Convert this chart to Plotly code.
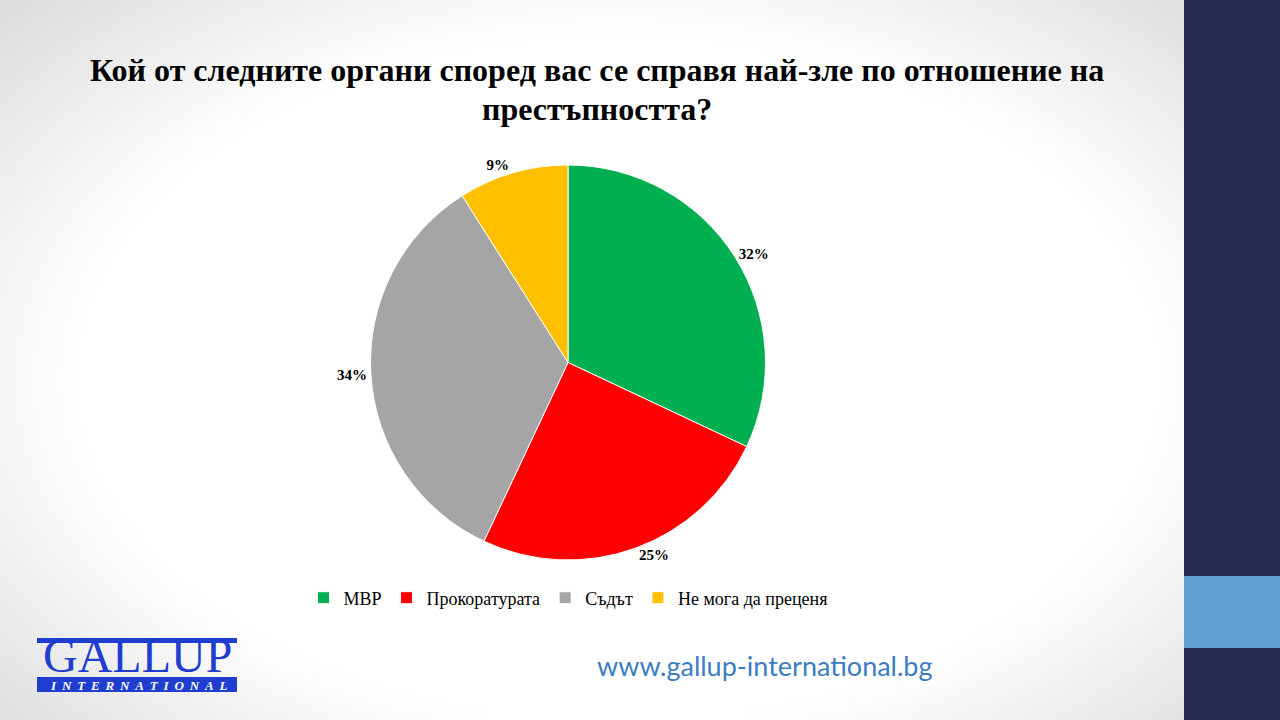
import base64
import struct
import zlib

import numpy as np
import plotly.graph_objects as go

labels = ["МВР", "Прокоратурата", "Съдът", "Не мога да преценя"]
values = [32, 25, 34, 9]
colors = ["#00b050", "#ff0000", "#a5a5a5", "#ffc000"]

title_line1 = "Кой от следните органи според вас се справя най-зле по отношение на"
title_line2 = "престъпността?"
site = "www.gallup-international.bg"
logo_top = "GALLUP"
logo_bottom = "INTERNATIONAL"

W, H = 1280, 720


def px(x):
    return x / W


def py(y):
    return 1 - y / H


# soft grey corners for the slide background, written as a tiny png
def vignette_png(w=160, h=90):
    yy, xx = np.mgrid[0:h, 0:w]
    dx = (xx / w - 0.48) / 0.55
    dy = (yy / h - 0.52) / 0.62
    d = np.sqrt(dx * dx + dy * dy)
    v = 255 - np.clip((d - 0.78) * 80, 0, 38)
    v = v.astype(np.uint8)
    raw = b"".join(b"\x00" + v[i].tobytes() for i in range(h))

    def chunk(tag, data):
        c = struct.pack(">I", len(data)) + tag + data
        return c + struct.pack(">I", zlib.crc32(tag + data) & 0xFFFFFFFF)

    png = b"\x89PNG\r\n\x1a\n"
    png += chunk(b"IHDR", struct.pack(">IIBBBBB", w, h, 8, 0, 0, 0, 0))
    png += chunk(b"IDAT", zlib.compress(raw, 9))
    png += chunk(b"IEND", b"")
    return "data:image/png;base64," + base64.b64encode(png).decode()


fig = go.Figure()
fig.add_trace(go.Pie(
    labels=labels,
    values=values,
    sort=False,
    direction="clockwise",
    rotation=0,
    marker=dict(colors=colors, line=dict(color="#ffffff", width=1)),
    texttemplate="<b>%{value}%</b>",
    textposition="outside",
    textfont=dict(family="Liberation Serif", size=15, color="#000000"),
    hoverinfo="label+value",
    domain=dict(x=[px(330), px(806)], y=[py(560), py(165)]),
))

# title
fig.add_annotation(x=px(597), y=py(70), xref="paper", yref="paper", text="<b>" + title_line1 + "</b>",
                   showarrow=False, xanchor="center", yanchor="middle",
                   font=dict(family="Liberation Serif", size=32, color="#000000"))
fig.add_annotation(x=px(597), y=py(109), xref="paper", yref="paper", text="<b>" + title_line2 + "</b>",
                   showarrow=False, xanchor="center", yanchor="middle",
                   font=dict(family="Liberation Serif", size=32, color="#000000"))

# right hand band
fig.add_shape(type="rect", xref="paper", yref="paper", x0=px(1184), x1=1, y0=0, y1=1,
              fillcolor="#262852", line_width=0, layer="below")
fig.add_shape(type="rect", xref="paper", yref="paper", x0=px(1184), x1=1, y0=py(648), y1=py(576),
              fillcolor="#639fd1", line_width=0, layer="below")

# gallup logo
fig.add_shape(type="rect", xref="paper", yref="paper", x0=px(37), x1=px(237), y0=py(643), y1=py(638),
              fillcolor="#1f3ed0", line_width=0)
fig.add_shape(type="rect", xref="paper", yref="paper", x0=px(37), x1=px(237), y0=py(692), y1=py(677),
              fillcolor="#1f3ed0", line_width=0)
fig.add_annotation(x=px(137), y=py(655), xref="paper", yref="paper", text=logo_top,
                   showarrow=False, xanchor="center", yanchor="middle", height=40, valign="middle",
                   font=dict(family="Liberation Serif", size=48, color="#1f3ed0"))
fig.add_annotation(x=px(138), y=py(684.5), xref="paper", yref="paper",
                   text="<b><i>" + "\u00a0\u2009".join(logo_bottom) + "</i></b>",
                   showarrow=False, xanchor="center", yanchor="middle", height=14,
                   font=dict(family="Liberation Serif", size=13, color="#ffffff"))

fig.add_annotation(x=px(765), y=py(665), xref="paper", yref="paper", text=site,
                   showarrow=False, xanchor="center", yanchor="middle",
                   font=dict(family="Lato", size=27, color="#3a7dc2"))

fig.add_layout_image(dict(source=vignette_png(), xref="paper", yref="paper", x=0, y=1,
                          sizex=1, sizey=1, sizing="stretch", layer="below"))

fig.update_layout(
    width=W, height=H,
    margin=dict(l=0, r=0, t=0, b=0),
    paper_bgcolor="#ffffff",
    plot_bgcolor="#ffffff",
    showlegend=True,
    legend=dict(orientation="h", x=px(568), xanchor="center", y=py(598), yanchor="middle",
                font=dict(family="Liberation Serif", size=18, color="#000000"),
                bgcolor="rgba(0,0,0,0)", traceorder="normal"),
)

fig.write_html("out.html", config={"displayModeBar": False},
               post_script="document.body.style.margin='0';")
